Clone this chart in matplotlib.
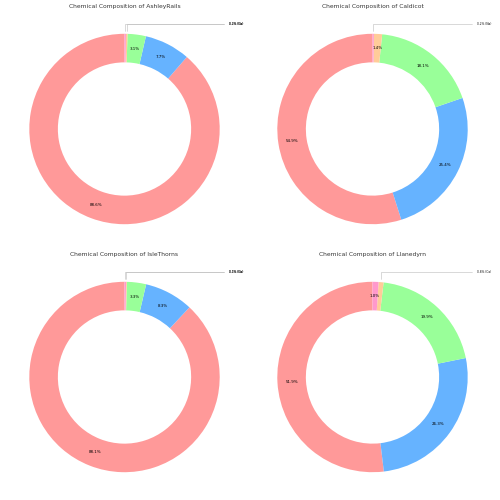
import matplotlib
matplotlib.use("Agg")
import matplotlib.pyplot as plt
import numpy as np

# mean oxide content per site (Romano-British pottery)
sites = ["AshleyRails", "Caldicot", "IsleThorns", "Llanedyrn"]
elements = ["Al", "Fe", "Mg", "Ca", "Na"]
al = [17.32, 11.70, 18.18, 51.90]
fe = [1.512, 5.415, 1.712, 26.30]
mg = [0.606, 3.855, 0.674, 19.94]
ca = [0.052, 0.295, 0.026, 0.84]
na = [0.048, 0.050, 0.054, 1.02]

colors = ["#ff9999", "#66b3ff", "#99ff99", "#ffcc99", "#ff99cc"]

fig = plt.figure(figsize=(5, 5), dpi=100)

# axes boxes (left, bottom, width, height) in figure fractions
boxes = [(0.011, 0.504, 0.476, 0.476), (0.507, 0.504, 0.476, 0.476),
         (0.011, 0.008, 0.476, 0.476), (0.507, 0.008, 0.476, 0.476)]

for i, site in enumerate(sites):
    ax = fig.add_axes(boxes[i])
    vals = np.array([al[i], fe[i], mg[i], ca[i], na[i]])
    pct = vals / vals.sum() * 100

    wedges, texts, autotexts = ax.pie(
        vals, colors=colors, startangle=90,
        autopct=lambda p: f"{p:.1f}%" if p >= 1 else "",
        pctdistance=0.85, wedgeprops=dict(width=0.3),
        textprops=dict(fontsize=2.9))

    # small wedges get a label outside with a leader line
    for w, p, el in zip(wedges, pct, elements):
        if p < 1:
            ang = np.deg2rad((w.theta1 + w.theta2) / 2)
            ax.annotate(f"{p:.1f}% ({el})", xy=(np.cos(ang), np.sin(ang)),
                        xytext=(1.1, 1.1), ha="left", va="center", fontsize=2.1,
                        arrowprops=dict(arrowstyle="-", color="#bbbbbb", lw=0.4,
                                        connectionstyle="angle,angleA=0,angleB=90"),
                        annotation_clip=False)

    ax.set_xlim(-1.25, 1.25)
    ax.set_ylim(-1.25, 1.25)
    ax.set_aspect("equal")
    ax.set_title(f"Chemical Composition of {site}", fontsize=4.3, pad=1.5,
                 color="#333333")

fig.savefig("out.png", dpi=100)
